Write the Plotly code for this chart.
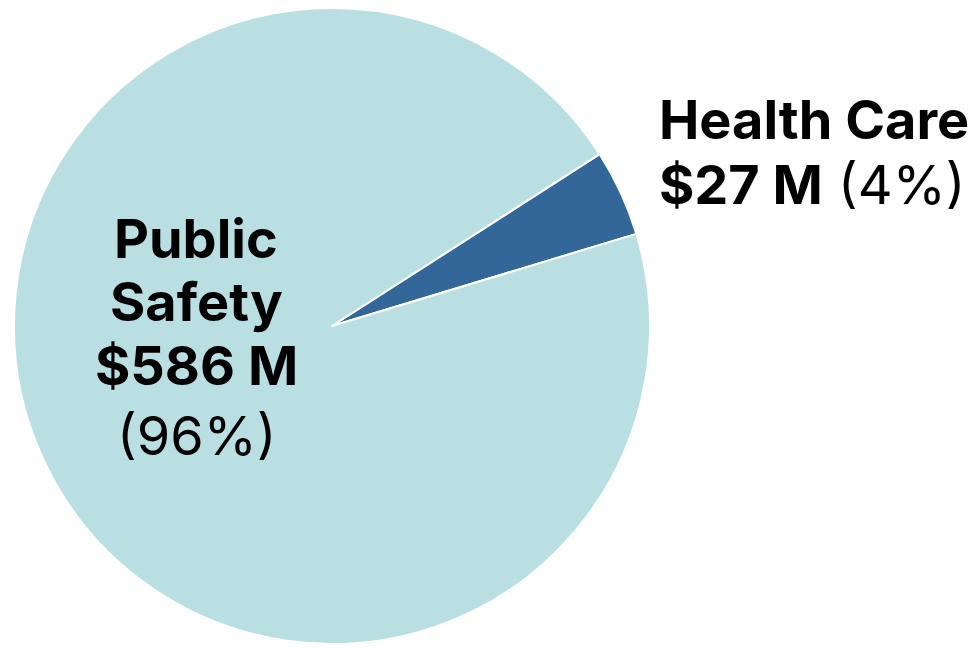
import plotly.graph_objects as go

categories = ["Health Care", "Public Safety"]
values = [27, 586]
colors = ["#346799", "#BADFE3"]

total = sum(values)
pcts = [round(v / total * 100) for v in values]

W, H = 977, 648
OFF = 8  # page body margin offset

fig = go.Figure()
fig.add_trace(go.Pie(
    labels=categories,
    values=values,
    sort=False,
    direction="clockwise",
    rotation=57.3,
    marker=dict(colors=colors, line=dict(color="white", width=2)),
    textinfo="none",
    hoverinfo="label+value+percent",
    showlegend=False,
    domain=dict(x=[(14 - OFF) / W, (650 - OFF) / W], y=[0.0185, 1.0]),
))

font_family = "Inter, Roboto, sans-serif"
FS = 54


def add_line(text, x, y_center, xanchor):
    fig.add_annotation(
        x=x - OFF, y=H - (y_center - OFF), xref="x", yref="y",
        xanchor=xanchor, yanchor="middle",
        text=text, showarrow=False,
        font=dict(family=font_family, size=FS, color="black"),
    )


# Health Care label (left aligned)
hc_lines = [f"<b>{categories[0]}</b>", f"<b>${values[0]} M</b> ({pcts[0]}%)"]
for txt, yc in zip(hc_lines, [119, 184]):
    add_line(txt, 657, yc, "left")

# Public Safety label (centered)
ps_words = categories[1].split(" ")
ps_lines = [f"<b>{ps_words[0]}</b>", f"<b>{ps_words[1]}</b>",
            f"<b>${values[1]} M</b>", f"({pcts[1]}%)"]
for txt, yc in zip(ps_lines, [238, 301, 365, 435]):
    add_line(txt, 196, yc, "center")

fig.update_layout(
    width=W, height=H,
    margin=dict(l=0, r=0, t=0, b=0),
    paper_bgcolor="white", plot_bgcolor="white",
    xaxis=dict(range=[0, W], visible=False, fixedrange=True),
    yaxis=dict(range=[0, H], visible=False, fixedrange=True),
)

fig.write_html("out.html")
